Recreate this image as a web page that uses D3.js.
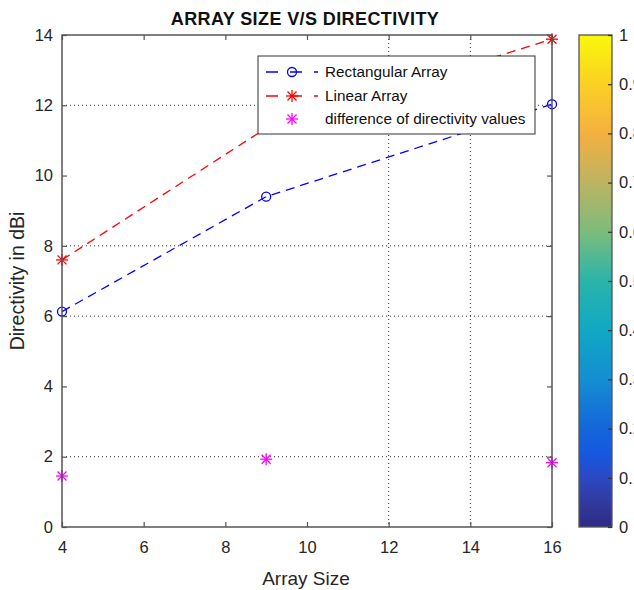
<!DOCTYPE html>
<html><head><meta charset="utf-8">
<script src="https://cdn.jsdelivr.net/npm/d3@7"></script>
<style>body{margin:0;background:#fff;}svg{display:block;font-family:"Liberation Sans",Arial,sans-serif;}</style>
</head><body><svg id="c" width="634" height="590"></svg>
<script>
const arraySize = [4, 9, 16];
const rectangular = [6.13, 9.4, 12.03];
const linear = [7.6, 11.35, 13.88];
const difference = [1.45, 1.93, 1.83];
const xTicks = [4, 6, 8, 10, 12, 14, 16];
const yTicks = [0, 2, 4, 6, 8, 10, 12, 14];
const yGrid = [2, 6, 8, 12];
const xGrid = [12, 14];
const cbTicks = [0, 0.1, 0.2, 0.3, 0.4, 0.5, 0.6, 0.7, 0.8, 0.9, 1];
const legendLabels = ["Rectangular Array", "Linear Array", "difference of directivity values"];

const svg = d3.select("#c");
const L = 62, R = 552, T = 35, B = 527;
const x = d3.scaleLinear().domain([4, 16]).range([L, R]);
const y = d3.scaleLinear().domain([0, 14]).range([B, T]);
const axisCol = "#555";
const txtCol = "#262626";

// grid
const g = svg.append("g");
g.selectAll(".gy").data(yGrid).join("line")
  .attr("x1", L).attr("x2", R).attr("y1", d => y(d)).attr("y2", d => y(d))
  .attr("stroke", "#333").attr("stroke-width", 1).attr("stroke-dasharray", "1,3");
g.selectAll(".gx").data(xGrid).join("line")
  .attr("y1", T).attr("y2", B).attr("x1", d => x(d)).attr("x2", d => x(d))
  .attr("stroke", "#333").attr("stroke-width", 1).attr("stroke-dasharray", "1,3");

// lines
const line = d3.line().x((d, i) => x(arraySize[i])).y(d => y(d));
svg.append("path").datum(rectangular).attr("d", line).attr("fill", "none")
  .attr("stroke", "#0000ff").attr("stroke-width", 1.3).attr("stroke-dasharray", "9,6");
svg.append("path").datum(linear).attr("d", line).attr("fill", "none")
  .attr("stroke", "#ff0000").attr("stroke-width", 1.3).attr("stroke-dasharray", "9,6");

function star(sel, cx, cy, r, col) {
  const gg = sel.append("g").attr("stroke", col).attr("stroke-width", 1.3);
  const a = r * 0.75;
  gg.append("line").attr("x1", cx).attr("x2", cx).attr("y1", cy - r).attr("y2", cy + r);
  gg.append("line").attr("x1", cx - r).attr("x2", cx + r).attr("y1", cy).attr("y2", cy);
  gg.append("line").attr("x1", cx - a).attr("x2", cx + a).attr("y1", cy - a).attr("y2", cy + a);
  gg.append("line").attr("x1", cx - a).attr("x2", cx + a).attr("y1", cy + a).attr("y2", cy - a);
}
function circ(sel, cx, cy, r, col) {
  sel.append("circle").attr("cx", cx).attr("cy", cy).attr("r", r)
    .attr("fill", "none").attr("stroke", col).attr("stroke-width", 1.3);
}
rectangular.forEach((v, i) => circ(svg, x(arraySize[i]), y(v), 4.5, "#0000ff"));
linear.forEach((v, i) => star(svg, x(arraySize[i]), y(v), 6, "#ff0000"));
difference.forEach((v, i) => star(svg, x(arraySize[i]), y(v), 6, "#ff00ff"));

// frame and ticks
svg.append("rect").attr("x", L).attr("y", T).attr("width", R - L).attr("height", B - T)
  .attr("fill", "none").attr("stroke", axisCol).attr("stroke-width", 1.5);
const xb = d3.axisBottom(x).tickValues(xTicks).tickSize(-5).tickFormat(d3.format("d"));
const xt = d3.axisTop(x).tickValues(xTicks).tickSize(-5).tickFormat("");
const yl = d3.axisLeft(y).tickValues(yTicks).tickSize(-5).tickFormat(d3.format("d"));
const yr = d3.axisRight(y).tickValues(yTicks).tickSize(-5).tickFormat("");
function style(ax) {
  ax.select(".domain").remove();
  ax.selectAll(".tick line").attr("stroke", axisCol).attr("stroke-width", 1.2);
  ax.selectAll("text").attr("fill", txtCol).attr("font-size", 16.5).attr("font-family", "Liberation Sans, Arial, sans-serif");
}
svg.append("g").attr("transform", `translate(0,${B})`).call(xb).call(style)
  .selectAll("text").attr("dy", "1.2em").attr("y", 6);
svg.append("g").attr("transform", `translate(0,${T})`).call(xt).call(style);
svg.append("g").attr("transform", `translate(${L},0)`).call(yl).call(style)
  .selectAll("text").attr("x", -9);
svg.append("g").attr("transform", `translate(${R},0)`).call(yr).call(style);

// labels
svg.append("text").attr("x", 305).attr("y", 25).attr("text-anchor", "middle")
  .attr("font-weight", "bold").attr("font-size", 18).attr("fill", "#111").attr("letter-spacing", 0.4)
  .text("ARRAY SIZE V/S DIRECTIVITY");
svg.append("text").attr("x", 306).attr("y", 585).attr("text-anchor", "middle")
  .attr("font-size", 19).attr("fill", txtCol).text("Array Size");
svg.append("text").attr("transform", "translate(24,281) rotate(-90)").attr("text-anchor", "middle")
  .attr("font-size", 19.5).attr("fill", txtCol).text("Directivity in dBi");

// legend
const lg = svg.append("g");
lg.append("rect").attr("x", 258).attr("y", 56).attr("width", 277).attr("height", 78)
  .attr("fill", "#fff").attr("stroke", "#333").attr("stroke-width", 1);
const legCols = ["#0000ff", "#ff0000", "#ff00ff"];
const rows = [72, 96, 119];
legendLabels.forEach((t, i) => {
  const yy = rows[i];
  if (i < 2) {
    lg.append("line").attr("x1", 266).attr("x2", 318).attr("y1", yy).attr("y2", yy)
      .attr("stroke", legCols[i]).attr("stroke-width", 1.3).attr("stroke-dasharray", "12,12");
  }
  if (i === 0) circ(lg, 292, yy, 4.5, legCols[i]); else star(lg, 292, yy, 6, legCols[i]);
  lg.append("text").attr("x", 325).attr("y", yy + 5).attr("font-size", 15.3).attr("fill", "#111").text(t);
});

// colorbar
const cbL = 579, cbR = 612;
const cb = d3.scaleLinear().domain([0, 1]).range([B, T]);
const stops = [
  [0, "#2f2b85"], [0.05, "#313a9e"], [0.1, "#2c48c4"], [0.15, "#1558e0"], [0.2, "#1466da"],
  [0.3, "#148ed2"], [0.4, "#10a8c4"], [0.5, "#2ab4aa"], [0.6, "#7cbc7c"], [0.7, "#bdb362"],
  [0.8, "#f4b040"], [0.9, "#fcd024"], [1, "#f8f80a"]];
const defs = svg.append("defs");
const grad = defs.append("linearGradient").attr("id", "parula").attr("x1", 0).attr("x2", 0).attr("y1", 1).attr("y2", 0);
stops.forEach(s => grad.append("stop").attr("offset", s[0]).attr("stop-color", s[1]));
svg.append("rect").attr("x", cbL).attr("y", T).attr("width", cbR - cbL).attr("height", B - T)
  .attr("fill", "url(#parula)").attr("stroke", axisCol).attr("stroke-width", 1.3);
const cba = d3.axisRight(cb).tickValues(cbTicks).tickSize(-4).tickFormat(d => d === 0 || d === 1 ? d3.format("d")(d) : d3.format(".1f")(d));
svg.append("g").attr("transform", `translate(${cbR},0)`).call(cba).call(style)
  .call(a => a.selectAll(".tick line").attr("stroke", "#333"))
  .selectAll("text").attr("x", 7);
</script></body></html>
